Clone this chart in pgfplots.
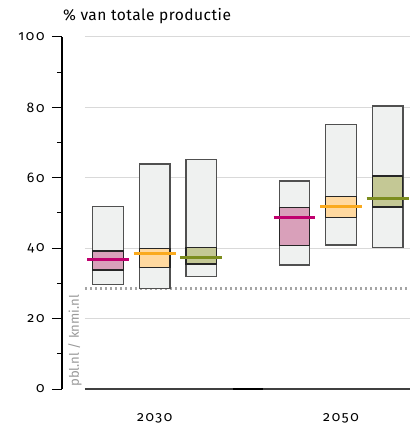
\documentclass[border=0pt]{standalone}
\usepackage{pgfplots}
\pgfplotsset{compat=1.18}
\usepackage{fontspec}
\setmainfont{Fira Sans}[Numbers=OldStyle]
\newfontfamily\tickfont{Fira Sans}[Numbers=OldStyle, LetterSpace=12]
\newfontfamily\titlefont{Fira Sans}[Numbers=OldStyle, LetterSpace=3]
\definecolor{boxgray}{HTML}{EFF1F0}
\definecolor{boxedge}{HTML}{505050}
\definecolor{pinkfill}{HTML}{D9A0BA}
\definecolor{orangefill}{HTML}{FFD9A0}
\definecolor{olivefill}{HTML}{C4C895}
\definecolor{pinkline}{HTML}{C0006E}
\definecolor{orangeline}{HTML}{FAAA1E}
\definecolor{oliveline}{HTML}{7C8D1E}
\definecolor{gridgray}{HTML}{D9D9D9}
\definecolor{dotgray}{HTML}{A5A5A5}
\begin{document}
\begin{tikzpicture}
\begin{axis}[
  scale only axis,
  width=348bp, height=352bp,
  xmin=-0.99, xmax=6.48,
  ymin=0, ymax=100,
  axis lines*=left,
  x axis line style={draw=none},
  y axis line style={black, line width=1.1bp},
  xtick={1,5}, xticklabels={2030,2050},
  xtick style={draw=none},
  xticklabel style={yshift=-11bp},
  ytick={0,20,...,100},
  minor ytick={10,30,...,90},
  tick align=outside,
  major tick length=10bp,
  minor tick length=5bp,
  ytick style={black, line width=1bp},
  minor tick style={black, line width=1bp},
  yticklabel style={xshift=-4bp},
  /pgf/number format/assume math mode=true,
  tick label style={font=\tickfont\fontsize{14}{16}\selectfont},
  clip=false,
]
% grid lines
\addplot[gridgray, line width=1bp] coordinates {(-0.5,20)(6.48,20)};
\addplot[gridgray, line width=1bp] coordinates {(-0.5,40)(6.48,40)};
\addplot[gridgray, line width=1bp] coordinates {(-0.5,60)(6.48,60)};
\addplot[gridgray, line width=1bp] coordinates {(-0.5,80)(6.48,80)};
\addplot[gridgray, line width=1bp] coordinates {(-0.5,100)(6.48,100)};
% dotted reference line
\addplot[dotgray, line width=2.5bp, dash pattern=on 2.5bp off 2.5bp] coordinates {(-0.5,28.6)(6.48,28.6)};
% baseline
\addplot[black!75, line width=1.2bp] coordinates {(-0.5,0)(6.48,0)};
\addplot[black, line width=2bp] coordinates {(2.67,0)(3.33,0)};
% 2030 pink
\addplot[fill=boxgray, draw=boxedge, line width=1.2bp] coordinates {(-0.328,29.8)(0.328,29.8)(0.328,51.8)(-0.328,51.8)} -- cycle;
\addplot[fill=pinkfill, draw=black!85, line width=1.1bp] coordinates {(-0.328,33.8)(0.328,33.8)(0.328,39.2)(-0.328,39.2)} -- cycle;
\addplot[pinkline, line width=3bp] coordinates {(-0.45,36.9)(0.45,36.9)};
% 2030 orange
\addplot[fill=boxgray, draw=boxedge, line width=1.2bp] coordinates {(0.672,28.6)(1.328,28.6)(1.328,63.9)(0.672,63.9)} -- cycle;
\addplot[fill=orangefill, draw=black!85, line width=1.1bp] coordinates {(0.672,34.4)(1.328,34.4)(1.328,39.8)(0.672,39.8)} -- cycle;
\addplot[orangeline, line width=3bp] coordinates {(0.55,38.4)(1.45,38.4)};
% 2030 olive
\addplot[fill=boxgray, draw=boxedge, line width=1.2bp] coordinates {(1.672,31.9)(2.328,31.9)(2.328,65.3)(1.672,65.3)} -- cycle;
\addplot[fill=olivefill, draw=black!85, line width=1.1bp] coordinates {(1.672,35.5)(2.328,35.5)(2.328,40.1)(1.672,40.1)} -- cycle;
\addplot[oliveline, line width=3bp] coordinates {(1.55,37.4)(2.45,37.4)};
% 2050 pink
\addplot[fill=boxgray, draw=boxedge, line width=1.2bp] coordinates {(3.672,35.2)(4.328,35.2)(4.328,59.1)(3.672,59.1)} -- cycle;
\addplot[fill=pinkfill, draw=black!85, line width=1.1bp] coordinates {(3.672,40.7)(4.328,40.7)(4.328,51.6)(3.672,51.6)} -- cycle;
\addplot[pinkline, line width=3bp] coordinates {(3.55,48.8)(4.45,48.8)};
% 2050 orange
\addplot[fill=boxgray, draw=boxedge, line width=1.2bp] coordinates {(4.672,40.9)(5.328,40.9)(5.328,75.1)(4.672,75.1)} -- cycle;
\addplot[fill=orangefill, draw=black!85, line width=1.1bp] coordinates {(4.672,48.7)(5.328,48.7)(5.328,54.8)(4.672,54.8)} -- cycle;
\addplot[orangeline, line width=3bp] coordinates {(4.55,51.9)(5.45,51.9)};
% 2050 olive
\addplot[fill=boxgray, draw=boxedge, line width=1.2bp] coordinates {(5.672,40.1)(6.328,40.1)(6.328,80.4)(5.672,80.4)} -- cycle;
\addplot[fill=olivefill, draw=black!85, line width=1.1bp] coordinates {(5.672,51.7)(6.328,51.7)(6.328,60.5)(5.672,60.5)} -- cycle;
\addplot[oliveline, line width=3bp] coordinates {(5.55,54.1)(6.45,54.1)};
\end{axis}
\node[anchor=west, inner sep=0pt, font=\titlefont\fontsize{15.6}{18}\selectfont] at (1bp,373bp) {\% van totale productie};
\node[anchor=west, rotate=90, inner sep=0pt, text=black!40, font=\fontsize{13.2}{15}\selectfont] at (13bp,2bp) {pbl.nl / knmi.nl};
\pgfresetboundingbox
\path[use as bounding box] (-62bp,-39bp) rectangle (348bp,389bp);
\end{tikzpicture}
\end{document}
